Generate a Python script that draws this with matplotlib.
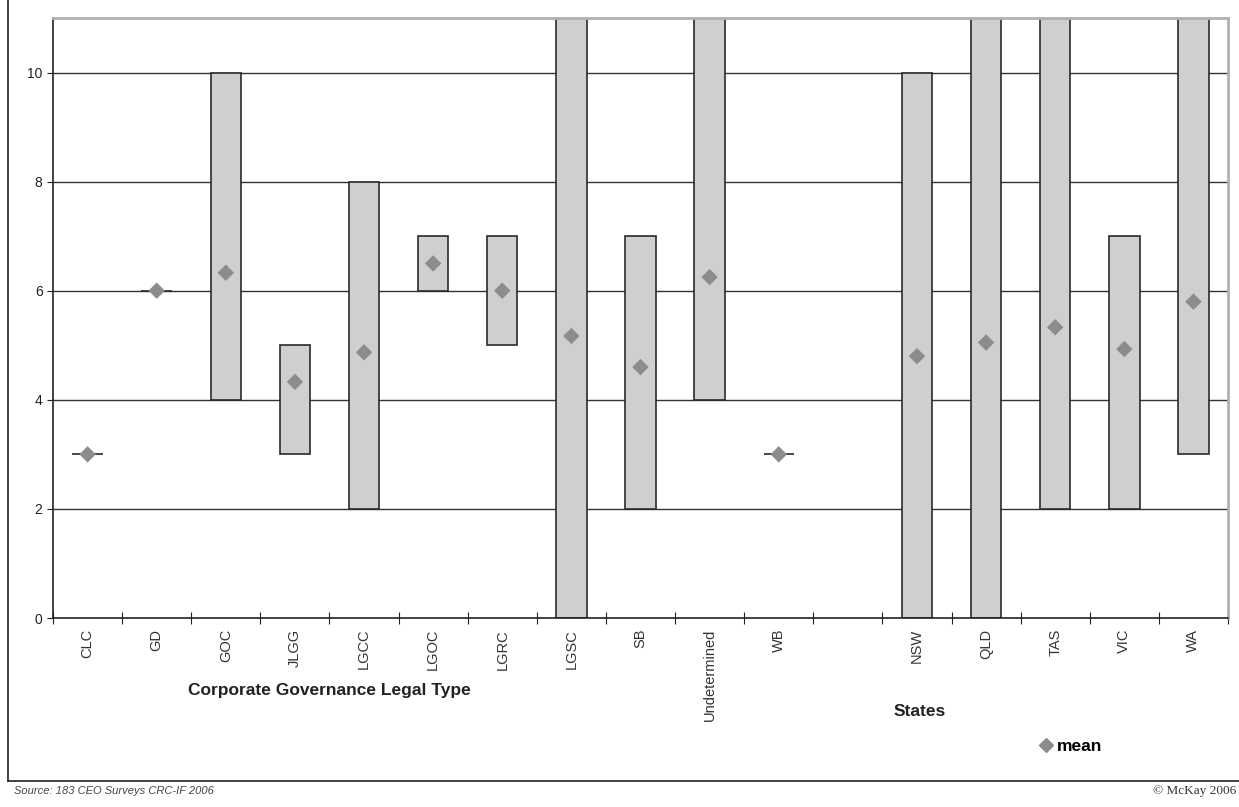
import matplotlib
matplotlib.use("Agg")
import matplotlib.pyplot as plt
from matplotlib.lines import Line2D

plt.rcParams['font.family'] = ['Liberation Sans', 'DejaVu Sans']

# category labels (blank slot separates legal types from states)
categories = ['CLC', 'GD', 'GOC', 'JLGG', 'LGCC', 'LGOC', 'LGRC', 'LGSC', 'SB',
              'Undetermined', 'WB', '', 'NSW', 'QLD', 'TAS', 'VIC', 'WA']
low_vals = [3, 6, 4, 3, 2, 6, 5, 0, 2, 4, 3, None, 0, 0, 2, 2, 3]
high_vals = [3, 6, 10, 5, 8, 7, 7, 12, 7, 12, 3, None, 10, 12, 12, 7, 12]
mean_vals = [3.0, 6.0, 6.33, 4.33, 4.87, 6.5, 6.0, 5.17, 4.6, 6.25, 3.0, None,
             4.8, 5.05, 5.33, 4.93, 5.8]

fig = plt.figure(figsize=(12.39, 8.07), dpi=100)
ax = fig.add_axes([0.0428, 0.2342, 0.9483, 0.7435])

xs = [i for i, c in enumerate(categories) if c]
lows = [low_vals[i] for i in xs]
highs = [high_vals[i] for i in xs]
means = [mean_vals[i] for i in xs]

# horizontal grid
for y in range(2, 11, 2):
    ax.axhline(y, color='#333333', lw=1.0, zorder=1)

ax.bar(xs, [h - l for h, l in zip(highs, lows)], bottom=lows, width=0.44,
       color='#cfcfcf', edgecolor='#2a2a2a', linewidth=1.2, zorder=2)
ax.scatter(xs, means, marker='D', s=70, color='#8c8c8c', zorder=4,
           edgecolors='none')

ax.set_xlim(-0.5, len(categories) - 0.5)
ax.set_ylim(0, 11)
ax.set_yticks(range(0, 11, 2))
ax.tick_params(axis='y', labelsize=10, direction='out', length=4,
               colors='#222222')
ax.set_xticks([i - 0.5 for i in range(len(categories) + 1)])
ax.set_xticklabels([])
ax.tick_params(axis='x', direction='inout', length=9, colors='#222222')
for i, c in enumerate(categories):
    if c:
        ax.text(i, -0.2, c, rotation=90, ha='center', va='top', fontsize=10.5,
                color='#333333')

for side in ['left', 'bottom']:
    ax.spines[side].set_color('#222222')
    ax.spines[side].set_linewidth(1.2)
for side in ['top', 'right']:
    ax.spines[side].set_color('#b0b0b0')
    ax.spines[side].set_linewidth(2)

fig.text(329 / 1239, 1 - 690 / 807, 'Corporate Governance Legal Type',
         ha='center', va='center', fontsize=12.5, fontweight='bold',
         color='#222222')
fig.text(920 / 1239, 1 - 712 / 807, 'States', ha='center', va='center',
         fontsize=12.5, fontweight='bold', color='#222222')

handle = Line2D([], [], marker='D', color='#8c8c8c', ls='none', markersize=7)
fig.legend([handle], ['mean'], loc='center', bbox_to_anchor=(1070 / 1239, 1 - 746 / 807),
           frameon=False, handletextpad=0.1, handlelength=1.0,
           prop={'weight': 'semibold', 'size': 12.5})

# outer frame
fig.add_artist(Line2D([8 / 1239, 8 / 1239], [1, 1 - 781 / 807],
                      color='#222222', lw=1.2, transform=fig.transFigure))
fig.add_artist(Line2D([8 / 1239, 1], [1 - 781 / 807, 1 - 781 / 807],
                      color='#222222', lw=1.2, transform=fig.transFigure))

fig.text(14 / 1239, 1 - 791 / 807, 'Source: 183 CEO Surveys CRC-IF 2006',
         ha='left', va='center', fontsize=8, style='italic', color='#444444')
fig.text(1236 / 1239, 1 - 791 / 807, '\u00a9 McKay 2006', ha='right',
         va='center', fontsize=9.5, family=['Liberation Serif', 'DejaVu Serif'],
         color='#333333')

fig.savefig('out.png', dpi=100)
